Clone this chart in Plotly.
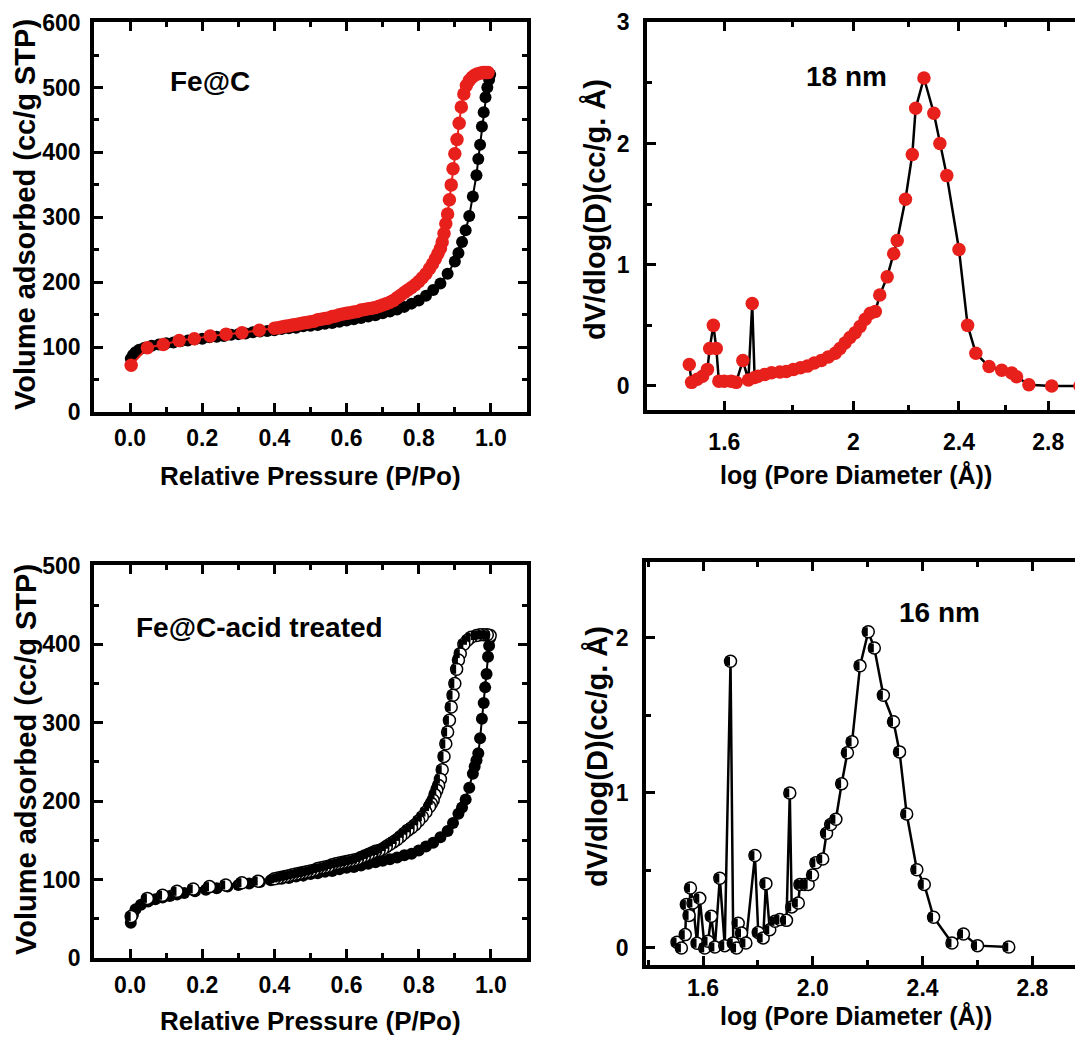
import plotly.graph_objects as go

# ---------------- data ----------------
# Fe@C isotherm
fe_ads_p = [0.002, 0.008, 0.015, 0.025, 0.04, 0.06, 0.08, 0.10, 0.12, 0.14,
            0.16, 0.18, 0.20, 0.22, 0.24, 0.26, 0.28, 0.30, 0.32, 0.34,
            0.36, 0.38, 0.40, 0.42, 0.44, 0.46, 0.48, 0.50, 0.52, 0.54,
            0.56, 0.58, 0.60, 0.62, 0.64, 0.66, 0.68, 0.70, 0.72, 0.74,
            0.76, 0.78, 0.80, 0.82, 0.84, 0.86, 0.88, 0.90, 0.91, 0.92,
            0.93, 0.94, 0.95, 0.96, 0.965, 0.97, 0.975, 0.98, 0.985, 0.99,
            0.995, 0.998]
fe_ads_v = [82, 88, 92, 96, 99, 102, 104, 106, 107, 109,
            110, 112, 113, 115, 116, 117, 119, 120, 121, 123,
            124, 125, 126, 128, 129, 130, 132, 133, 134, 136,
            137, 139, 141, 143, 145, 147, 149, 152, 155, 158,
            162, 167, 172, 179, 188, 198, 213, 232, 245, 262,
            280, 302, 332, 365, 390, 412, 440, 462, 485, 500,
            512, 520]
fe_des_p = [0.992, 0.985, 0.978, 0.970, 0.962, 0.955, 0.948, 0.940, 0.932, 0.925,
            0.918, 0.912, 0.906, 0.900, 0.895, 0.890, 0.885, 0.880, 0.875, 0.870,
            0.865, 0.860, 0.853, 0.846, 0.838, 0.830, 0.820, 0.810, 0.800, 0.790,
            0.780, 0.770, 0.760, 0.750, 0.740, 0.730, 0.720, 0.710, 0.700, 0.690,
            0.680, 0.670, 0.660, 0.650, 0.640, 0.630, 0.620, 0.610, 0.600, 0.590,
            0.580, 0.570, 0.560, 0.550, 0.540, 0.530, 0.520, 0.510, 0.500, 0.490,
            0.480, 0.470, 0.460, 0.450, 0.440, 0.430, 0.420, 0.410, 0.400,
            0.358, 0.310, 0.266, 0.222, 0.178, 0.136, 0.092, 0.048, 0.003]
fe_des_v = [523, 523, 523, 522, 521, 519, 516, 511, 503, 490,
            470, 445, 420, 398, 375, 350, 327, 305, 290, 275,
            262, 252, 244, 236, 228, 221, 213, 207, 201, 196,
            192, 188, 184, 180, 176, 172, 169, 167, 165, 163,
            161, 160, 159, 158, 157, 155, 154, 153, 152, 151,
            150, 148, 147, 145, 144, 143, 142, 140, 139, 138,
            137, 136, 135, 134, 133, 132, 131, 130, 129,
            126, 122, 120, 117, 113, 110, 104, 99, 72]

# Fe@C-acid treated isotherm
acid_ads_p = [0.002, 0.008, 0.015, 0.03, 0.05, 0.07, 0.09, 0.11, 0.13, 0.15,
              0.18, 0.21, 0.24, 0.27, 0.30, 0.33, 0.36, 0.39, 0.42, 0.44,
              0.46, 0.48, 0.50, 0.52, 0.54, 0.56, 0.58, 0.60, 0.62, 0.64,
              0.66, 0.68, 0.70, 0.72, 0.74, 0.76, 0.78, 0.80, 0.82, 0.84,
              0.86, 0.88, 0.895, 0.91, 0.92, 0.93, 0.94, 0.95, 0.955, 0.96,
              0.965, 0.97, 0.975, 0.98, 0.984, 0.988, 0.992, 0.995, 0.998]
acid_ads_v = [45, 55, 62, 68, 72, 75, 77, 79, 81, 83,
              85, 87, 89, 91, 93, 95, 97, 99, 101, 102,
              104, 105, 107, 108, 110, 111, 113, 115, 116, 118,
              120, 122, 124, 126, 128, 131, 133, 137, 142, 147,
              154, 162, 172, 184, 192, 202, 217, 235, 244, 252,
              261, 280, 305, 325, 345, 362, 384, 398, 408]
acid_des_p = [0.998, 0.99, 0.98, 0.97, 0.96, 0.945, 0.935, 0.925, 0.915, 0.91,
              0.905, 0.90, 0.895, 0.89, 0.885, 0.88, 0.875, 0.87, 0.865, 0.86,
              0.855, 0.85, 0.845, 0.84, 0.835, 0.83, 0.82, 0.81, 0.80, 0.79,
              0.78, 0.77, 0.76, 0.75, 0.74, 0.73, 0.72, 0.71, 0.70, 0.69,
              0.68, 0.67, 0.66, 0.65, 0.64, 0.63, 0.62, 0.61, 0.60, 0.59,
              0.58, 0.57, 0.56, 0.55, 0.54, 0.53, 0.52, 0.51, 0.50, 0.49,
              0.48, 0.47, 0.46, 0.45, 0.44, 0.43, 0.42, 0.41, 0.40,
              0.355, 0.31, 0.265, 0.22, 0.175, 0.13, 0.09, 0.048, 0.003]
acid_des_v = [411, 412, 412, 412, 411, 409, 405, 400, 388, 380,
              368, 350, 335, 320, 303, 288, 273, 257, 240, 228,
              220, 214, 208, 201, 197, 193, 186, 180, 175, 170,
              166, 163, 159, 155, 151, 148, 145, 142, 139, 137,
              136, 134, 132, 130, 128, 126, 125, 124, 123, 122,
              121, 120, 119, 117, 116, 115, 114, 112, 111, 110,
              109, 108, 107, 106, 105, 104, 103, 102, 101,
              98, 96, 93, 91, 88, 85, 80, 76, 53]

# Pore size distributions (x = log pore diameter)
psd1_d = [1.506, 1.512, 1.527, 1.541, 1.554, 1.560, 1.570, 1.578, 1.585, 1.600,
          1.619, 1.633, 1.652, 1.668, 1.679, 1.686, 1.696, 1.716, 1.736, 1.761,
          1.781, 1.803, 1.825, 1.847, 1.869, 1.892, 1.915, 1.938, 1.954, 1.971,
          1.988, 2.006, 2.023, 2.041, 2.059, 2.077, 2.093, 2.120, 2.144, 2.157,
          2.188, 2.214, 2.227, 2.259, 2.298, 2.322, 2.350, 2.400, 2.436, 2.471,
          2.528, 2.584, 2.629, 2.651, 2.708, 2.817, 2.958]
psd1_v = [0.178, 0.03, 0.055, 0.08, 0.137, 0.31, 0.50, 0.31, 0.04, 0.04,
          0.04, 0.03, 0.21, 0.05, 0.68, 0.07, 0.08, 0.095, 0.11, 0.115,
          0.12, 0.137, 0.15, 0.164, 0.19, 0.21, 0.24, 0.27, 0.31, 0.355,
          0.40, 0.44, 0.49, 0.55, 0.60, 0.615, 0.75, 0.90, 1.09, 1.20,
          1.54, 1.91, 2.29, 2.54, 2.25, 2.0, 1.735, 1.126, 0.50, 0.27,
          0.16, 0.13, 0.107, 0.077, 0.01, 0.0, 0.0]

psd2_d = [1.505, 1.521, 1.535, 1.539, 1.549, 1.554, 1.563, 1.578, 1.588, 1.606,
          1.618, 1.630, 1.643, 1.661, 1.679, 1.700, 1.710, 1.722, 1.728, 1.740,
          1.756, 1.789, 1.801, 1.819, 1.829, 1.843, 1.862, 1.880, 1.904, 1.916,
          1.923, 1.947, 1.953, 1.971, 1.983, 1.999, 2.011, 2.036, 2.050, 2.065,
          2.084, 2.105, 2.126, 2.143, 2.172, 2.202, 2.224, 2.257, 2.294, 2.316,
          2.342, 2.379, 2.406, 2.440, 2.507, 2.549, 2.600, 2.714]
psd2_v = [0.037, 0.0, 0.086, 0.28, 0.21, 0.387, 0.29, 0.03, 0.32, 0.0,
          0.043, 0.204, 0.006, 0.45, 0.015, 1.85, 0.032, 0.0, 0.16, 0.097,
          0.032, 0.596, 0.10, 0.065, 0.415, 0.118, 0.172, 0.183, 0.178, 1.0,
          0.265, 0.29, 0.41, 0.41, 0.41, 0.47, 0.55, 0.574, 0.74, 0.796,
          0.83, 1.06, 1.26, 1.33, 1.82, 2.04, 1.935, 1.63, 1.46, 1.265,
          0.864, 0.505, 0.41, 0.198, 0.032, 0.09, 0.015, 0.006]

# tick labels
iso_x_ticks = [0.0, 0.2, 0.4, 0.6, 0.8, 1.0]
iso_x_text = ["0.0", "0.2", "0.4", "0.6", "0.8", "1.0"]
fe_y_ticks = [0, 100, 200, 300, 400, 500, 600]
acid_y_ticks = [0, 100, 200, 300, 400, 500]
psd1_x_ticks = [1.6, 2.0, 2.4, 2.8]
psd1_x_text = ["1.6", "2", "2.4", "2.8"]
psd1_x_minor = [1.8, 2.2, 2.6]
psd1_y_ticks = [0, 1, 2, 3]
psd2_x_ticks = [1.6, 2.0, 2.4, 2.8]
psd2_x_text = ["1.6", "2.0", "2.4", "2.8"]
psd2_y_ticks = [0, 1, 2]

# ---------------- styling ----------------
W, H = 1083, 1042
OFF = 8  # page body margin of the html document
RED = "#e8201c"
FONT = "Liberation Sans, Arial, sans-serif"


def fx(p):
    return (p - OFF) / W


def fy(p):
    return 1 - (p - OFF) / H


# half-filled circle: white disc with black outline + black bar on right half
half_disc = dict(color="white", size=12, line=dict(color="black", width=1.5))
half_fill = dict(symbol="line-ew", size=6.4, angle=90, standoff=3, color="black",
                 line=dict(color="black", width=5))

fig = go.Figure()

# Panel 1
fig.add_trace(go.Scatter(x=fe_ads_p, y=fe_ads_v, mode="lines+markers",
                         line=dict(color="black", width=2),
                         marker=dict(color="black", size=12),
                         xaxis="x", yaxis="y", showlegend=False))
fig.add_trace(go.Scatter(x=fe_des_p, y=fe_des_v, mode="lines+markers",
                         line=dict(color=RED, width=2),
                         marker=dict(color=RED, size=13.5),
                         xaxis="x", yaxis="y", showlegend=False))
# Panel 2
fig.add_trace(go.Scatter(x=psd1_d, y=psd1_v, mode="lines+markers",
                         line=dict(color="black", width=2.5),
                         marker=dict(color=RED, size=13.5),
                         xaxis="x2", yaxis="y2", showlegend=False))
# Panel 3
fig.add_trace(go.Scatter(x=acid_ads_p, y=acid_ads_v, mode="lines+markers",
                         line=dict(color="black", width=2),
                         marker=dict(color="black", size=12),
                         xaxis="x3", yaxis="y3", showlegend=False))
fig.add_trace(go.Scatter(x=acid_des_p, y=acid_des_v, mode="lines+markers",
                         line=dict(color="black", width=2),
                         marker=half_disc,
                         xaxis="x3", yaxis="y3", showlegend=False))
fig.add_trace(go.Scatter(x=acid_des_p, y=acid_des_v, mode="markers",
                         marker=half_fill, hoverinfo="skip",
                         xaxis="x3", yaxis="y3", showlegend=False))
# Panel 4
fig.add_trace(go.Scatter(x=psd2_d, y=psd2_v, mode="lines+markers",
                         line=dict(color="black", width=2.5),
                         marker=half_disc,
                         xaxis="x4", yaxis="y4", showlegend=False))
fig.add_trace(go.Scatter(x=psd2_d, y=psd2_v, mode="markers",
                         marker=half_fill, hoverinfo="skip",
                         xaxis="x4", yaxis="y4", showlegend=False))

tickfont = dict(family=FONT, size=23, color="black", weight="bold")
common = dict(showline=True, linewidth=3.5, linecolor="black", ticks="inside",
              ticklen=9, tickwidth=3, tickcolor="black", showgrid=False,
              zeroline=False, tickfont=tickfont, automargin=False, mirror="ticks")


def minor(**kw):
    d = dict(ticks="inside", ticklen=5, tickwidth=2.5, tickcolor="black", showgrid=False)
    d.update(kw)
    return d


# right frame of the right-hand panels lies just beyond the visible page edge
R_EDGE = fx(1084.5)
P2_RANGE = [0.1461, 0.4744]
P2_Y = [-0.198, 3.002]
P4_RANGE = [1.392, 2.990]
P4_Y = [-0.11, 2.49]

fig.update_layout(
    template="none",
    width=W, height=H, margin=dict(l=0, r=0, t=0, b=0, pad=0),
    paper_bgcolor="white", plot_bgcolor="white", showlegend=False,
    # panel 1
    xaxis=dict(domain=[fx(94), fx(527)], anchor="y", range=[-0.1, 1.1],
               tickmode="array", tickvals=iso_x_ticks, ticktext=iso_x_text,
               minor=minor(dtick=0.1, tick0=0), ticklabelstandoff=3, **common),
    yaxis=dict(domain=[fy(412), fy(22)], anchor="x", range=[0, 601],
               tickmode="array", tickvals=fe_y_ticks,
               minor=minor(dtick=50, tick0=0), ticklabelstandoff=5, **common),
    # panel 2
    xaxis2=dict(domain=[fx(647), R_EDGE], anchor="y2", type="log", range=P2_RANGE,
                tickmode="array", tickvals=psd1_x_ticks, ticktext=psd1_x_text,
                minor=minor(tickmode="array", tickvals=psd1_x_minor),
                ticklabelstandoff=9, **common),
    yaxis2=dict(domain=[fy(410), fy(22)], anchor="x2", range=P2_Y,
                tickmode="array", tickvals=psd1_y_ticks,
                minor=minor(dtick=0.5, tick0=0), ticklabelstandoff=9, **common),
    # panel 3
    xaxis3=dict(domain=[fx(94), fx(527)], anchor="y3", range=[-0.1, 1.1],
                tickmode="array", tickvals=iso_x_ticks, ticktext=iso_x_text,
                minor=minor(dtick=0.1, tick0=0), ticklabelstandoff=4, **common),
    yaxis3=dict(domain=[fy(958), fy(565)], anchor="x3", range=[0, 501],
                tickmode="array", tickvals=acid_y_ticks,
                minor=minor(dtick=50, tick0=0), ticklabelstandoff=5, **common),
    # panel 4
    xaxis4=dict(domain=[fx(646), R_EDGE], anchor="y4", range=P4_RANGE,
                tickmode="array", tickvals=psd2_x_ticks, ticktext=psd2_x_text,
                minor=minor(dtick=0.2, tick0=1.6), ticklabelstandoff=0, **common),
    yaxis4=dict(domain=[fy(965), fy(562)], anchor="x4", range=P4_Y,
                tickmode="array", tickvals=psd2_y_ticks,
                minor=minor(dtick=0.5, tick0=0), ticklabelstandoff=9, **common),
)

ann_font = dict(family=FONT, size=28, color="black", weight="bold")
xt1_font = dict(family=FONT, size=26, color="black", weight="bold")
xt2_font = dict(family=FONT, size=25, color="black", weight="bold")
yt_font = dict(family=FONT, size=29, color="black", weight="bold")


def ann(text, x, y, font, angle=0):
    fig.add_annotation(text=text, x=fx(x), y=fy(y), xref="paper", yref="paper",
                       showarrow=False, font=font, textangle=angle,
                       xanchor="center", yanchor="middle")


ann("Fe@C", 210, 82, ann_font)
ann("Fe@C-acid treated", 259, 627, ann_font)
ann("18 nm", 846, 76, ann_font)
ann("16 nm", 939, 612, ann_font)

ann("Relative Pressure (P/Po)", 310, 476, xt1_font)
ann("Relative Pressure (P/Po)", 310, 1021, xt1_font)
ann("log (Pore Diameter (Å))", 856, 475, xt2_font)
ann("log (Pore Diameter (Å))", 856, 1016, xt2_font)

ann("Volume adsorbed (cc/g STP)", 25, 215, yt_font, -90)
ann("Volume adsorbed (cc/g STP)", 26, 760, yt_font, -90)
ann("dV/dlog(D)(cc/g. Å)", 595, 210, yt_font, -90)
ann("dV/dlog(D)(cc/g. Å)", 597, 757, yt_font, -90)

fig.write_html("out.html")
